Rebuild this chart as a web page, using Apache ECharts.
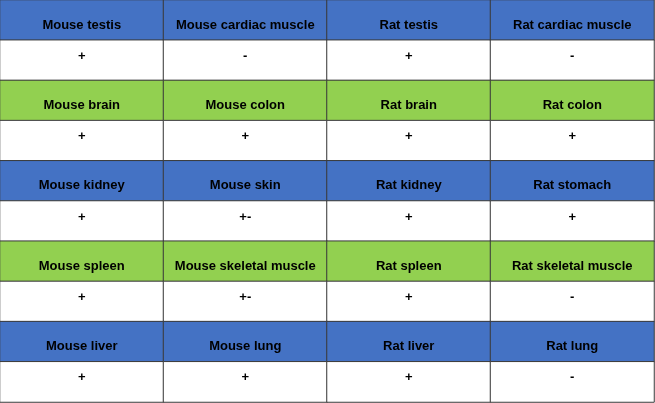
<!DOCTYPE html>
<html><head><meta charset="utf-8">
<script src="https://cdn.jsdelivr.net/npm/echarts@6/dist/echarts.min.js"></script>
<style>html,body{margin:0;padding:0;background:#fff}#c{width:655px;height:403px}</style>
</head><body><div id="c"></div>
<script>
const columns = ['c1','c2','c3','c4'];
const rows = ['r1','r2','r3','r4','r5','r6','r7','r8','r9','r10'];
const headerRows = [
  ['Mouse testis','Mouse cardiac muscle','Rat testis','Rat cardiac muscle'],
  ['Mouse brain','Mouse colon','Rat brain','Rat colon'],
  ['Mouse kidney','Mouse skin','Rat kidney','Rat stomach'],
  ['Mouse spleen','Mouse skeletal muscle','Rat spleen','Rat skeletal muscle'],
  ['Mouse liver','Mouse lung','Rat liver','Rat lung']
];
const signRows = [
  ['+','-','+','-'],
  ['+','+','+','+'],
  ['+','+-','+','+'],
  ['+','+-','+','-'],
  ['+','+','+','-']
];
const headerColors = [1,2,1,2,1]; // 1 blue, 2 green

const data = [];
for (let g = 0; g < headerRows.length; g++) {
  for (let c = 0; c < 4; c++) {
    data.push({value:[c, g*2, headerColors[g]], name: headerRows[g][c], label:{offset:[0,5]}});
    data.push({value:[c, g*2+1, 0], name: signRows[g][c], label:{offset:[0,-4]}});
  }
}
const chart = echarts.init(document.getElementById('c'));
chart.setOption({
  animation:false,
  grid:{left:0,right:1,top:0,bottom:1},
  xAxis:{type:'category',data:columns,show:false},
  yAxis:{type:'category',data:rows,inverse:true,show:false},
  visualMap:{type:'piecewise',show:false,dimension:2,pieces:[
    {value:0,color:'#ffffff'},{value:1,color:'#4472C4'},{value:2,color:'#92D050'}]},
  series:[{type:'heatmap',data:data,
    itemStyle:{borderColor:'#3a3a3a',borderWidth:1},
    label:{show:true,formatter:p=>p.name,color:'#000',fontFamily:'Liberation Sans',
      fontWeight:'bold',fontSize:13},
    emphasis:{disabled:true}}]
});
</script></body></html>
